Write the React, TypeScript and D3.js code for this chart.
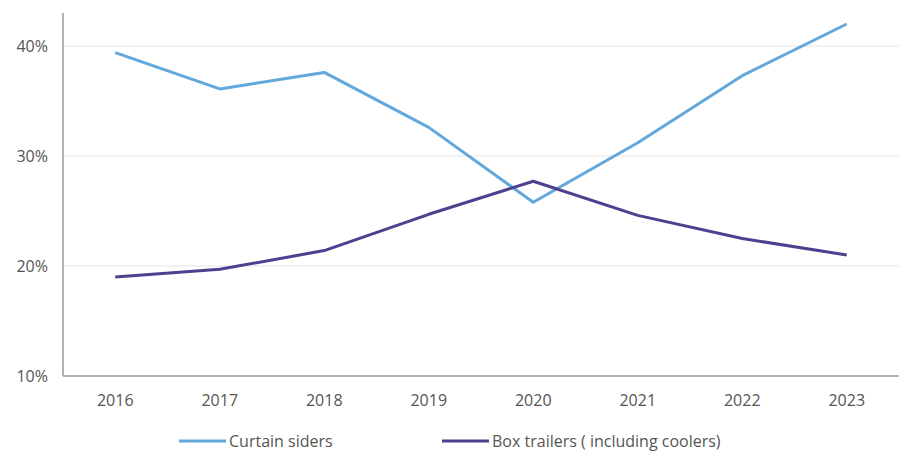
import React from "react";
import * as d3 from "d3";

const years = ["2016", "2017", "2018", "2019", "2020", "2021", "2022", "2023"];
const curtainSiders = [39.4, 36.1, 37.6, 32.6, 25.8, 31.2, 37.3, 42.0];
const boxTrailers = [19.0, 19.7, 21.4, 24.7, 27.7, 24.6, 22.5, 21.0];
const yTicks = [10, 20, 30, 40];
const seriesNames = ["Curtain siders", "Box trailers ( including coolers)"];
const seriesColors = ["#62a8dc", "#4d418f"];

const W = 899;
const H = 454;
const margin = { left: 63, right: 0, top: 13, bottom: 78 };

export default function App() {
  const x = d3
    .scaleBand<string>()
    .domain(years)
    .range([margin.left, W - margin.right])
    .padding(0);
  const y = d3
    .scaleLinear()
    .domain([10, 10 + (376 - 13) / 11])
    .range([376, 13]);
  const line = d3
    .line<number>()
    .x((_, i) => (x(years[i]) as number) + x.bandwidth() / 2)
    .y((d) => y(d));
  const font = "'Open Sans', 'Noto Sans', sans-serif";
  const series = [curtainSiders, boxTrailers];
  const legendX = [179, 442];
  return (
    <svg
      width={W}
      height={H}
      style={{ position: "absolute", left: 0, top: 0, background: "#fff" }}
    >
      {yTicks.slice(1).map((t) => (
        <line
          key={t}
          x1={margin.left}
          x2={W}
          y1={y(t)}
          y2={y(t)}
          stroke="#e4e4e4"
          strokeWidth={1}
        />
      ))}
      <line x1={margin.left} x2={margin.left} y1={y.range()[1]} y2={y(10)} stroke="#9a9a9a" strokeWidth={1.5} />
      <line x1={margin.left} x2={W} y1={y(10)} y2={y(10)} stroke="#9a9a9a" strokeWidth={1.5} />
      {yTicks.map((t) => (
        <text
          key={t}
          x={48}
          y={y(t)}
          dy="0.35em"
          textAnchor="end"
          fontFamily={font}
          fontSize={16}
          fill="#555"
        >
          {t}%
        </text>
      ))}
      {years.map((yr) => (
        <text
          key={yr}
          x={(x(yr) as number) + x.bandwidth() / 2}
          y={406}
          textAnchor="middle"
          fontFamily={font}
          fontSize={16}
          fill="#555"
        >
          {yr}
        </text>
      ))}
      {series.map((s, i) => (
        <path
          key={i}
          d={line(s) || ""}
          fill="none"
          stroke={seriesColors[i]}
          strokeWidth={3}
          strokeLinejoin="round"
        />
      ))}
      {seriesNames.map((n, i) => (
        <g key={n}>
          <line
            x1={legendX[i]}
            x2={legendX[i] + 47}
            y1={441}
            y2={441}
            stroke={seriesColors[i]}
            strokeWidth={3}
          />
          <text
            x={legendX[i] + 50}
            y={441}
            dy="0.35em"
            fontFamily={font}
            fontSize={16}
            fill="#555"
          >
            {n}
          </text>
        </g>
      ))}
    </svg>
  );
}
